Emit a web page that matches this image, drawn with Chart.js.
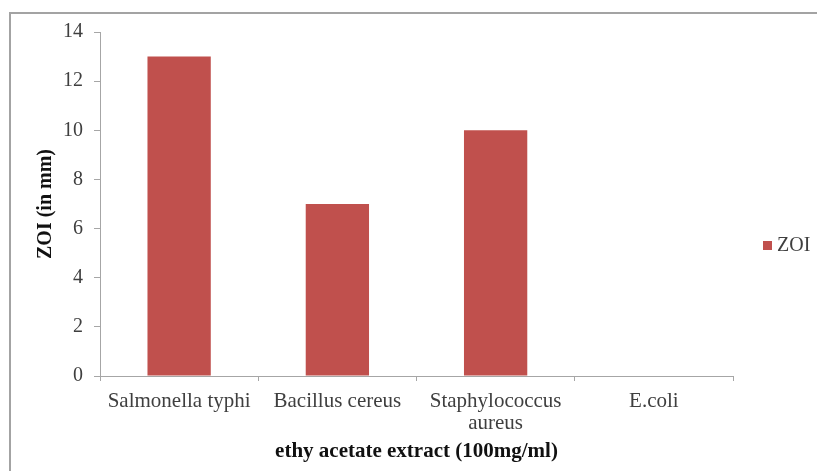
<!DOCTYPE html>
<html>
<head>
<meta charset="utf-8">
<title>ZOI - ethy acetate extract</title>
<script src="https://cdn.jsdelivr.net/npm/chart.js@4/dist/chart.umd.min.js"></script>
<style>
  html, body { margin: 0; padding: 0; background: #ffffff; }
  #wrap { position: relative; width: 817px; height: 471px; overflow: hidden; }
  #frame {
    position: absolute; left: 9px; top: 12px; width: 900px; height: 600px;
    border-left: 2px solid #a3a3a3; border-top: 2px solid #a3a3a3;
    pointer-events: none;
  }
  canvas { position: absolute; left: 0; top: 0; }
</style>
</head>
<body>
<div id="wrap">
  <canvas id="chart" width="817" height="471"></canvas>
  <div id="frame"></div>
</div>
<script>
// Zone of inhibition per organism, ethyl acetate extract at 100 mg/ml
const organisms = ['Salmonella typhi', 'Bacillus cereus', ['Staphylococcus', 'aureus'], 'E.coli'];
const zoiValues = [13, 7, 10, 0];
const seriesName = 'ZOI';
const xTitle = 'ethy acetate extract (100mg/ml)';
const yTitle = 'ZOI (in mm)';

const serif = "'Liberation Serif', 'Times New Roman', serif";
const barColor = '#c0504d';
const axisColor = '#a6a6a6';
const textColor = '#3f3f3f';

// Legend entry at the right, drawn from the dataset itself
const sideLegend = {
  id: 'sideLegend',
  afterDraw(chart) {
    const ds = chart.data.datasets[0];
    const ctx = chart.ctx;
    ctx.save();
    ctx.fillStyle = ds.backgroundColor;
    ctx.fillRect(763, 241, 9, 9);
    ctx.fillStyle = textColor;
    ctx.font = '20px ' + serif;
    ctx.textBaseline = 'middle';
    ctx.textAlign = 'left';
    ctx.fillText(ds.label, 777, 246);
    ctx.restore();
  }
};

new Chart(document.getElementById('chart'), {
  type: 'bar',
  data: {
    labels: organisms,
    datasets: [{
      label: seriesName,
      data: zoiValues,
      backgroundColor: barColor,
      borderWidth: 0,
      categoryPercentage: 1.0,
      barPercentage: 0.4
    }]
  },
  options: {
    responsive: false,
    animation: false,
    layout: { padding: { top: 32, right: 84, bottom: 0, left: 0 } },
    plugins: {
      legend: { display: false },
      tooltip: { enabled: false }
    },
    scales: {
      x: {
        afterFit(scale) { scale.height = 95; },
        grid: {
          display: true, offset: true, drawOnChartArea: false, drawTicks: true,
          tickLength: 5, color: axisColor
        },
        border: { display: true, color: axisColor, width: 1 },
        ticks: {
          color: textColor, padding: 9, maxRotation: 0, autoSkip: false,
          font: { family: serif, size: 21, lineHeight: 1.07 }
        },
        title: {
          display: true, text: xTitle, color: '#111111',
          font: { family: serif, size: 21, weight: 'bold', lineHeight: 1.2 },
          padding: { top: 0, bottom: 7 }
        }
      },
      y: {
        min: 0, max: 14,
        afterFit(scale) { scale.width = 100; },
        grid: {
          display: true, drawOnChartArea: false, drawTicks: true,
          tickLength: 6, color: axisColor
        },
        border: { display: true, color: axisColor, width: 1 },
        ticks: {
          stepSize: 2, color: textColor, padding: 11,
          font: { family: serif, size: 20 }
        },
        title: {
          display: true, text: yTitle, color: '#111111',
          font: { family: serif, size: 20, weight: 'bold', lineHeight: 1.2 },
          padding: { top: 34, bottom: 0 }
        }
      }
    }
  },
  plugins: [sideLegend]
});
</script>
</body>
</html>
